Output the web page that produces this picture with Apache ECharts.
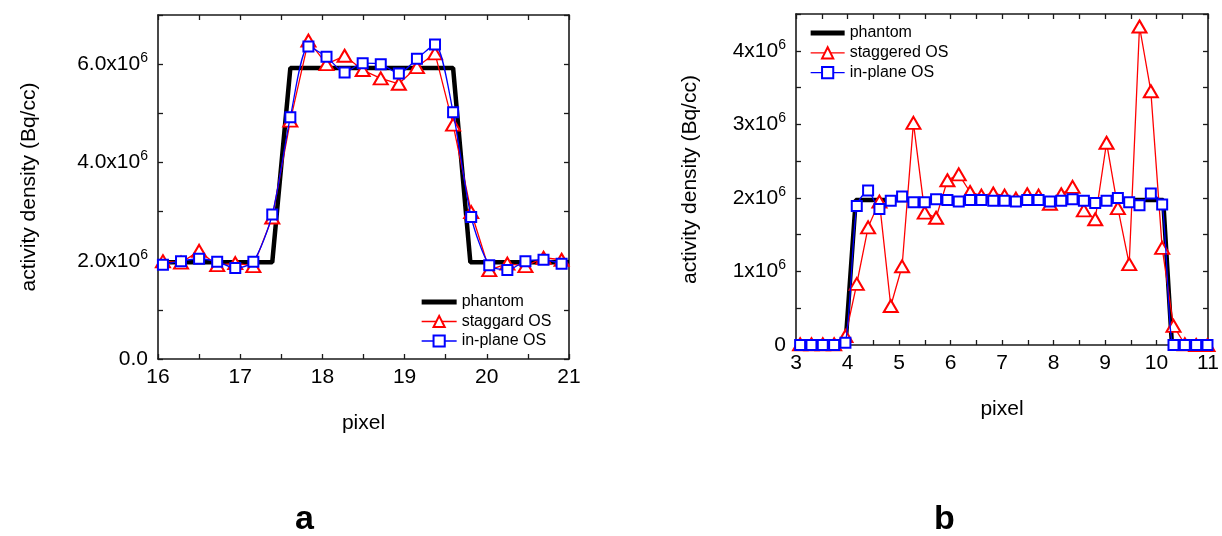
<!DOCTYPE html>
<html>
<head>
<meta charset="utf-8">
<script src="https://cdn.jsdelivr.net/npm/echarts@6/dist/echarts.min.js"></script>
<style>
html,body{margin:0;padding:0;background:#fff;}
#chart{width:1222px;height:536px;}
</style>
</head>
<body>
<div id="chart"></div>
<script>
// ---------- Panel a (values in units of 10^6 Bq/cc) ----------
const xA = [16.06, 16.28, 16.50, 16.72, 16.94, 17.16, 17.39, 17.61, 17.83, 18.05, 18.27, 18.49,
            18.71, 18.93, 19.15, 19.37, 19.59, 19.81, 20.03, 20.25, 20.47, 20.69, 20.91];
const phantomAx = [16, 17.39, 17.61, 19.59, 19.80, 21];
const phantomAy = [1.97, 1.97, 5.92, 5.92, 1.97, 1.97];
const staggardA = [1.99, 1.96, 2.20, 1.91, 1.95, 1.89, 2.88, 4.85, 6.48, 6.00, 6.17, 5.88,
                   5.71, 5.60, 5.94, 6.22, 4.77, 2.99, 1.81, 1.94, 1.89, 2.06, 2.02];
const inPlaneA  = [1.92, 1.99, 2.04, 1.98, 1.85, 1.98, 2.94, 4.92, 6.36, 6.15, 5.83, 6.02,
                   6.00, 5.81, 6.11, 6.40, 5.02, 2.89, 1.91, 1.81, 1.99, 2.02, 1.94];
const legendA = ['phantom', 'staggard OS', 'in-plane OS'];

// ---------- Panel b (values in units of 10^6 Bq/cc) ----------
const xB = [3.08, 3.30, 3.52, 3.74, 3.96, 4.18, 4.40, 4.62, 4.84, 5.06, 5.28, 5.50, 5.72,
            5.94, 6.16, 6.38, 6.60, 6.83, 7.05, 7.27, 7.49, 7.71, 7.93, 8.15, 8.37, 8.59,
            8.81, 9.03, 9.25, 9.47, 9.67, 9.89, 10.11, 10.33, 10.55, 10.77, 10.99];
const phantomBx = [3, 3.96, 4.16, 10.13, 10.30, 11];
const phantomBy = [0, 0, 1.97, 1.97, 0, 0];
const staggeredB = [0.01, 0.01, 0.01, 0.01, 0.12, 0.83, 1.60, 1.95, 0.53, 1.07, 3.02, 1.80, 1.73,
                    2.24, 2.32, 2.08, 2.03, 2.06, 2.03, 1.99, 2.05, 2.03, 1.92, 2.05, 2.15, 1.83,
                    1.71, 2.75, 1.86, 1.10, 4.33, 3.45, 1.32, 0.26, 0.01, 0.00, 0.00];
const inPlaneB = [0, 0, 0, 0, 0.03, 1.89, 2.10, 1.85, 1.96, 2.02, 1.94, 1.94, 1.98,
                  1.97, 1.95, 1.97, 1.97, 1.96, 1.96, 1.95, 1.97, 1.97, 1.95, 1.96, 1.98, 1.96,
                  1.93, 1.96, 2.00, 1.94, 1.90, 2.06, 1.91, 0, 0, 0, 0];
const legendB = ['phantom', 'staggered OS', 'in-plane OS'];

const FONT = 'Liberation Sans, Arial, sans-serif';
const pairs = (xs, ys) => xs.map((x, i) => [x, ys[i]]);

const richLab = {
  b: {fontSize: 21, fontFamily: FONT, color: '#000', lineHeight: 26},
  s: {fontSize: 14, fontFamily: FONT, color: '#000', lineHeight: 14, verticalAlign: 'top'}
};
function fmtA(v) {
  const r = Math.round(v * 10) / 10;
  if (Math.abs(r - Math.round(r)) > 1e-6 || Math.round(r) % 2 !== 0) return '';
  if (r === 0) return '{b|0.0}';
  return '{b|' + r.toFixed(1) + 'x10}{s|6}';
}
function fmtB(v) {
  const r = Math.round(v * 10) / 10;
  if (Math.abs(r - Math.round(r)) > 1e-6) return '';
  if (r === 0) return '{b|0}';
  return '{b|' + Math.round(r) + 'x10}{s|6}';
}

const axLine = {show: true, onZero: false, lineStyle: {color: '#1a1a1a', width: 1.6}};
const tick = {show: true, inside: true, length: 5, lineStyle: {color: '#1a1a1a', width: 1.3}};
const minor = {show: true, splitNumber: 2, length: 5, lineStyle: {color: '#1a1a1a', width: 1.3}};
const xLab = {fontSize: 21, fontFamily: FONT, color: '#000', margin: 8};

function xAx(grid, min, max, pos, named) {
  return {
    type: 'value', gridIndex: grid, position: pos, min: min, max: max, interval: 1,
    axisLine: axLine, axisTick: tick, minorTick: minor, splitLine: {show: false},
    axisLabel: named ? xLab : {show: false},
    name: named ? 'pixel' : '', nameLocation: 'middle', nameGap: 54,
    nameTextStyle: {fontSize: 21, fontFamily: FONT, color: '#000'}
  };
}
function yAx(grid, max, interval, pos, fmt, gap) {
  return {
    type: 'value', gridIndex: grid, position: pos, min: 0, max: max, interval: interval,
    axisLine: axLine, axisTick: tick, splitLine: {show: false},
    axisLabel: fmt ? {formatter: fmt, margin: 10, rich: richLab, fontSize: 21, fontFamily: FONT, color: '#000'} : {show: false},
    name: fmt ? 'activity density (Bq/cc)' : '', nameLocation: 'middle', nameGap: gap || 0,
    nameTextStyle: {fontSize: 21, fontFamily: FONT, color: '#000'}
  };
}

function lineSeries(name, data, xi, yi, kind) {
  if (kind === 'phantom') {
    return {name: name, type: 'line', xAxisIndex: xi, yAxisIndex: yi, data: data,
      showSymbol: false, symbol: 'none', lineStyle: {color: '#000', width: 4.5},
      itemStyle: {color: '#000'}, z: 2};
  }
  const red = kind === 'red';
  return {name: name, type: 'line', xAxisIndex: xi, yAxisIndex: yi, data: data,
    symbol: red ? 'emptyTriangle' : 'emptyRect', symbolSize: red ? [14, 12] : [10, 10],
    smooth: red ? false : 0.25,
    lineStyle: {color: red ? '#ff0000' : '#0000ff', width: 1.3},
    itemStyle: {color: red ? '#ff0000' : '#0000ff', borderWidth: 1.3},
    z: red ? 3 : 4};
}

function legendData(names) {
  return names.map((n, i) => i === 0
    ? {name: n, icon: 'path://M0,0H35V5H0Z', itemStyle: {color: '#000', borderWidth: 0}}
    : {name: n, lineStyle: {width: 1.3}});
}

const chart = echarts.init(document.getElementById('chart'), null, {renderer: 'canvas'});
chart.setOption({
  animation: false,
  backgroundColor: '#fff',
  textStyle: {fontFamily: FONT},
  grid: [
    {left: 158, top: 15, width: 411, height: 344},
    {left: 796, top: 14, width: 412, height: 331}
  ],
  xAxis: [
    xAx(0, 16, 21, 'bottom', true),
    xAx(0, 16, 21, 'top', false),
    xAx(1, 3, 11, 'bottom', true),
    xAx(1, 3, 11, 'top', false)
  ],
  yAxis: [
    yAx(0, 7, 1, 'left', fmtA, 118),
    yAx(0, 7, 1, 'right', null),
    yAx(1, 4.5, 0.5, 'left', fmtB, 95),
    yAx(1, 4.5, 0.5, 'right', null)
  ],
  legend: [
    {data: legendData(legendA), orient: 'vertical', left: 416, top: 289, itemWidth: 35, itemHeight: 14,
     itemGap: 3.5, selectedMode: false, textStyle: {fontSize: 16, fontFamily: FONT, color: '#000'}},
    {data: legendData(legendB), orient: 'vertical', left: 805, top: 20, itemWidth: 34, itemHeight: 14,
     itemGap: 3.8, selectedMode: false, textStyle: {fontSize: 16, fontFamily: FONT, color: '#000'}}
  ],
  graphic: [
    {type: 'text', left: 295, top: 503, style: {text: 'a', font: 'bold 34px ' + FONT, fill: '#000'}},
    {type: 'text', left: 934, top: 503, style: {text: 'b', font: 'bold 34px ' + FONT, fill: '#000'}}
  ],
  series: [
    lineSeries('phantom', pairs(phantomAx, phantomAy), 0, 0, 'phantom'),
    lineSeries('staggard OS', pairs(xA, staggardA), 0, 0, 'red'),
    lineSeries('in-plane OS', pairs(xA, inPlaneA), 0, 0, 'blue'),
    lineSeries('phantom', pairs(phantomBx, phantomBy), 2, 2, 'phantom'),
    lineSeries('staggered OS', pairs(xB, staggeredB), 2, 2, 'red'),
    lineSeries('in-plane OS', pairs(xB, inPlaneB), 2, 2, 'blue')
  ]
});
</script>
</body>
</html>
